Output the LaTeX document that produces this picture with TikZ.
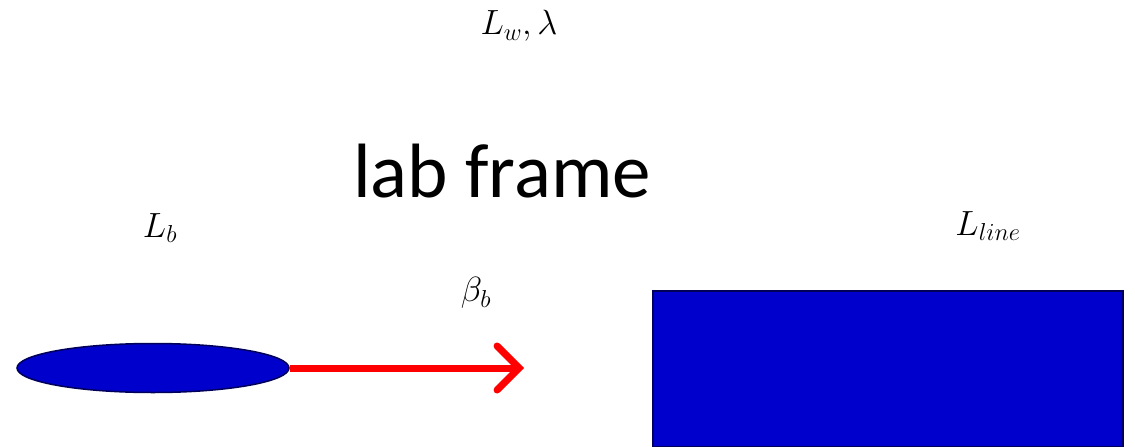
\RequirePackage{fix-cm}
\documentclass[tikz,border=0pt]{standalone}
\usepackage{fontspec}
\newfontfamily\labfont{Carlito}
\usetikzlibrary{arrows.meta,shapes.geometric}
\definecolor{bodyblue}{RGB}{0,0,204}
\definecolor{edgenavy}{RGB}{0,0,90}
\definecolor{arrowred}{RGB}{255,0,0}
\begin{document}
\begin{tikzpicture}[x=1pt,y=-1pt,
  mathlabel/.style={inner sep=0pt, font=\fontsize{35}{40}\selectfont},
  bodyshape/.style={fill=bodyblue, draw=edgenavy, line width=1.5pt},
  beamarrow/.style={draw=arrowred, line width=7pt, -{Straight Barb[length=22pt,width=44pt,line width=7pt,line cap=round]}}]
\useasboundingbox (0,0) rectangle (1135,447);
\node[mathlabel] (lw) at (519,26) {$L_w, \lambda$};
\node[inner sep=0pt, font=\labfont\fontsize{77}{80}\selectfont, anchor=base] (lab) at (502,197) {lab frame};
\node[mathlabel] (lb) at (160,228) {$L_b$};
\node[mathlabel] (lline) at (988,226) {$L_{line}$};
\node[mathlabel] (beta) at (476,293) {$\beta_b$};
\node[bodyshape, ellipse, minimum width=272pt, minimum height=49pt, inner sep=0pt] (bunch) at (153,368) {};
\node[bodyshape, rectangle, minimum width=470pt, minimum height=156pt, inner sep=0pt, anchor=north west] (line) at (652,290) {};
\coordinate (tip) at (524,368);
\draw[beamarrow] (bunch.east) -- (tip);
\end{tikzpicture}
\end{document}
